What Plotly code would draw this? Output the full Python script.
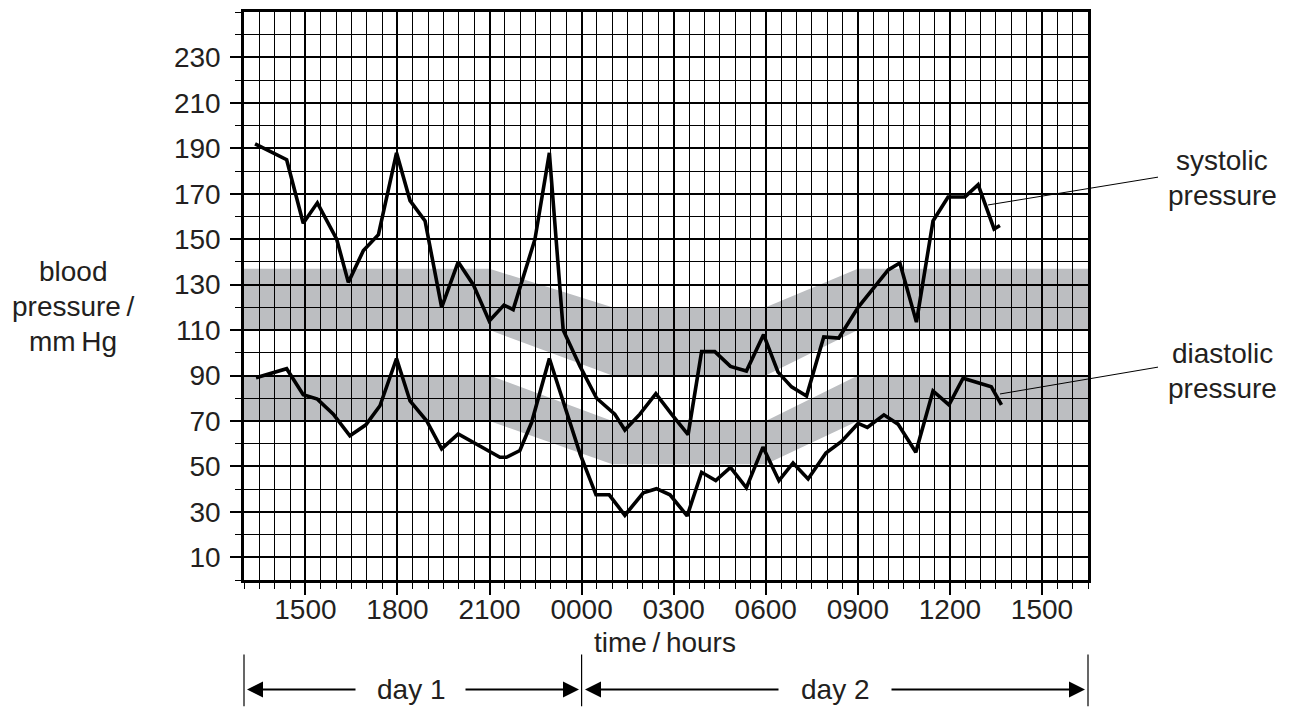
import plotly.graph_objects as go

# ---- data (time in hours from 00:00 of day 1) ----
sys_t = [13.36, 14.39, 14.93, 15.39, 16.02, 16.40, 16.89, 17.38, 17.97, 18.41, 18.90, 19.44,
         19.98, 20.47, 20.99, 21.47, 21.77, 22.48, 22.95, 23.40, 23.95, 24.49, 25.08, 25.41,
         25.90, 26.42, 26.93, 27.47, 27.91, 28.34, 28.85, 29.37, 29.93, 30.40, 30.84, 31.33,
         31.89, 32.38, 33.01, 33.99, 34.37, 34.91, 35.45, 35.94, 36.49, 36.92, 37.44, 37.63]
sys_v = [192, 185, 157, 166, 150, 131, 145, 152, 188, 167, 158, 120,
         140, 130, 114, 121, 119, 150, 188, 110, 94, 80, 73, 66,
         73, 82, 73, 64, 100.5, 100.5, 94, 92, 108, 91.5, 85, 81,
         107, 106.5, 120, 136.5, 139.5, 113.5, 158, 168.6, 168.6, 174, 154.5, 156]

dia_t = [13.39, 14.39, 14.93, 15.39, 15.91, 16.45, 16.97, 17.43, 17.97, 18.41, 18.95, 19.44,
         19.98, 21.34, 21.55, 21.99, 22.37, 22.95, 23.95, 24.47, 24.90, 25.41, 26.01, 26.44,
         26.88, 27.44, 27.91, 28.37, 28.85, 29.37, 29.91, 30.43, 30.89, 31.38, 31.96, 32.47,
         33.01, 33.31, 33.85, 34.31, 34.89, 35.45, 35.97, 36.43, 37.35, 37.68]
dia_v = [89, 93, 81.5, 79.6, 73, 63.5, 68.3, 76.7, 97.5, 78.8, 70.1, 57.7,
         64.3, 54, 54, 57, 69.3, 97.5, 55.5, 37.5, 37.5, 28.5, 38.4, 40.2,
         37.5, 28.2, 47.4, 43.8, 49.6, 40.6, 58.5, 43.7, 51.5, 44.5, 55.9, 61,
         68.9, 67.2, 72.7, 68.6, 56.2, 83.2, 77.1, 88.8, 85, 77.1]

# normal ranges (shaded bands)
band_t = [13, 21, 25, 30, 33, 40.5]
sys_band_hi = [137, 137, 120, 120, 137, 137]
sys_band_lo = [110, 110, 90, 90, 110, 110]
dia_band_hi = [90, 90, 70, 70, 90, 90]
dia_band_lo = [70, 70, 51, 51, 70, 70]

tick_vals = [15, 18, 21, 24, 27, 30, 33, 36, 39]
tick_text = ["1500", "1800", "2100", "0000", "0300", "0600", "0900", "1200", "1500"]
y_tick_vals = [10, 30, 50, 70, 90, 110, 130, 150, 170, 190, 210, 230]

X_MIN, X_MAX = 13, 40.5
Y_MIN, Y_MAX = 0, 250
day_bounds = [13, 24, 40.5]

OFF = 8  # page body margin
W, H = 1282, 701
L, R, T, B = 236, 202, 1, 129
PW, PH = W - L - R, H - T - B

def px(xs):
    return (xs - OFF - L) / PW

def py(ys):
    return (OFF + H - B - ys) / PH

FONT = "Liberation Sans, Arial, sans-serif"
FS = 28
TC = "#231f20"

fig = go.Figure()

def band_path(t, hi, lo):
    pts = list(zip(t, hi)) + list(zip(reversed(t), reversed(lo)))
    return "M " + " L ".join(f"{a},{b}" for a, b in pts) + " Z"

shapes = []
for hi, lo in [(sys_band_hi, sys_band_lo), (dia_band_hi, dia_band_lo)]:
    shapes.append(dict(type="path", path=band_path(band_t, hi, lo), xref="x", yref="y",
                       fillcolor="rgb(188,190,193)", line=dict(width=0), layer="below"))

fig.add_trace(go.Scatter(x=sys_t, y=sys_v, mode="lines", line=dict(color="black", width=3.6),
                         showlegend=False, hoverinfo="skip"))
fig.add_trace(go.Scatter(x=dia_t, y=dia_v, mode="lines", line=dict(color="black", width=3.6),
                         showlegend=False, hoverinfo="skip"))

# leader lines
shapes.append(dict(type="line", xref="paper", yref="paper", x0=px(988), y0=py(203), x1=px(1158), y1=py(175),
                   line=dict(color="black", width=1)))
shapes.append(dict(type="line", xref="paper", yref="paper", x0=px(1000), y0=py(393), x1=px(1158), y1=py(366),
                   line=dict(color="black", width=1)))

# day boundary lines
for d in day_bounds:
    xp = (d - X_MIN) / (X_MAX - X_MIN)
    shapes.append(dict(type="line", xref="paper", yref="paper", x0=xp, x1=xp, y0=py(655), y1=py(707),
                       line=dict(color="black", width=1.2)))

ann = []
def txt(text, xs, ys):
    ann.append(dict(text=text, x=px(xs), y=py(ys), xref="paper", yref="paper", showarrow=False,
                    xanchor="center", yanchor="middle", font=dict(family=FONT, size=FS, color=TC)))

txt("systolic", 1222, 158)
txt("pressure", 1222, 193)
txt("diastolic", 1222, 352)
txt("pressure", 1222, 387)
txt("blood", 73, 270)
txt("pressure\u2009/", 73, 305)
txt("mm\u2009Hg", 73, 340)
txt("time\u2009/\u2009hours", 665, 643)
txt("day 1", 411, 690)
txt("day 2", 835, 690)

def arrow(head, tail, ys):
    ann.append(dict(text="", x=px(head), y=py(ys), xref="paper", yref="paper", showarrow=True,
                    ax=tail - head, ay=0, axref="pixel", ayref="pixel", arrowhead=2, arrowsize=1.6,
                    arrowwidth=2, arrowcolor="black", standoff=0, startstandoff=0))

arrow(247, 357, 690)
arrow(579, 464, 690)
arrow(585, 780, 690)
arrow(1085, 890, 690)

fig.update_layout(
    width=W, height=H,
    margin=dict(l=L, r=R, t=T, b=B),
    plot_bgcolor="white", paper_bgcolor="white",
    shapes=shapes, annotations=ann,
    font=dict(family=FONT, size=FS, color=TC),
    xaxis=dict(range=[X_MIN, X_MAX], tickmode="array", tickvals=tick_vals, ticktext=tick_text,
               showgrid=True, gridcolor="black", gridwidth=2,
               ticks="outside", ticklen=12, tickwidth=2, tickcolor="black",
               showline=True, linecolor="black", linewidth=2.5, mirror=True,
               zeroline=False, tickfont=dict(family=FONT, size=FS, color=TC),
               ticklabelstandoff=-9,
               minor=dict(tickmode="linear", tick0=X_MIN, dtick=0.5, showgrid=True, gridcolor="black",
                          gridwidth=1, ticks="outside", ticklen=6, tickwidth=1, tickcolor="black")),
    yaxis=dict(range=[Y_MIN, Y_MAX], tickmode="array", tickvals=y_tick_vals,
               showgrid=True, gridcolor="black", gridwidth=2,
               ticks="outside", ticklen=11, tickwidth=2, tickcolor="black",
               showline=True, linecolor="black", linewidth=2.5, mirror=True,
               zeroline=False, tickfont=dict(family=FONT, size=FS, color=TC),
               ticklabelstandoff=4,
               minor=dict(tickmode="linear", tick0=0, dtick=10, showgrid=True, gridcolor="black",
                          gridwidth=1, ticks="outside", ticklen=6, tickwidth=1, tickcolor="black")),
)

fig.write_html("out.html")
